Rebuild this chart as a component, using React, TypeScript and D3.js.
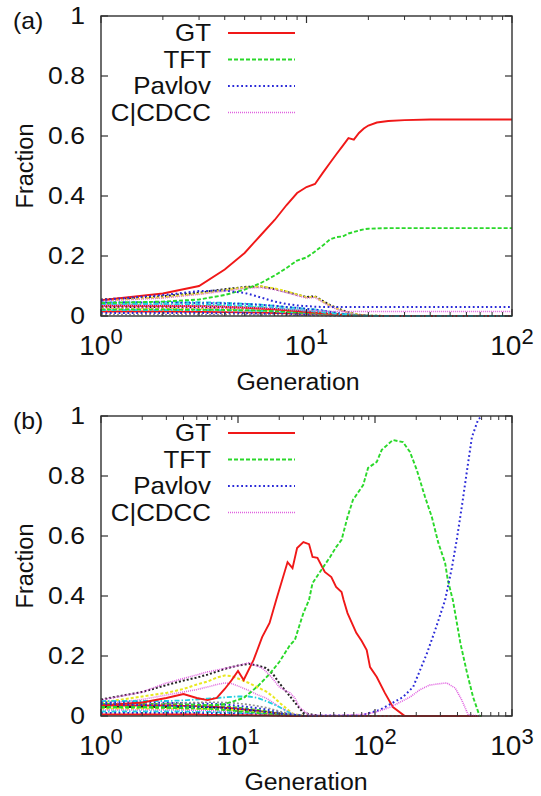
import React from 'react';
import * as d3 from 'd3';

// ---------- panel (a) ----------
const genA = [1, 2, 3, 4, 5, 6, 7, 8, 9, 10, 11, 12, 13, 14, 15, 16, 17, 18, 19, 20, 22, 25, 30, 40, 60, 100];
const gtA = [0.053, 0.075, 0.1, 0.155, 0.21, 0.27, 0.32, 0.37, 0.41, 0.43, 0.44, 0.477, 0.51, 0.54, 0.567, 0.593, 0.588, 0.61, 0.625, 0.635, 0.645, 0.65, 0.653, 0.655, 0.655, 0.655];
const tftA = [0.043, 0.048, 0.055, 0.07, 0.088, 0.11, 0.135, 0.16, 0.185, 0.195, 0.215, 0.235, 0.255, 0.263, 0.265, 0.275, 0.28, 0.285, 0.289, 0.291, 0.292, 0.293, 0.293, 0.293, 0.293, 0.293];
const pavA = [0.053, 0.07, 0.083, 0.085, 0.077, 0.062, 0.048, 0.04, 0.035, 0.033, 0.031, 0.03, 0.03, 0.03, 0.03, 0.03, 0.03, 0.03, 0.03, 0.03, 0.03, 0.03, 0.03, 0.03, 0.03, 0.03];
const ccdccA = [0.035, 0.035, 0.033, 0.031, 0.029, 0.027, 0.025, 0.022, 0.02, 0.018, 0.017, 0.016, 0.015, 0.015, 0.015, 0.015, 0.015, 0.015, 0.015, 0.015, 0.015, 0.015, 0.015, 0.015, 0.015, 0.015];

// remaining strategies, panel (a)
const genAo = [1, 2, 3, 4, 5, 6, 7, 8, 9, 10, 11, 12, 13, 14, 15, 16, 18, 20, 25, 100];
const othersA = [
  [0.055, 0.066, 0.078, 0.089, 0.097, 0.098, 0.09, 0.08, 0.071, 0.063, 0.066, 0.05, 0.037, 0.027, 0.019, 0.012, 0.004, 0.001, 0, 0],
  [0.052, 0.062, 0.074, 0.086, 0.095, 0.099, 0.092, 0.082, 0.072, 0.062, 0.064, 0.048, 0.035, 0.025, 0.017, 0.011, 0.004, 0.001, 0, 0],
  [0.05, 0.06, 0.072, 0.083, 0.092, 0.095, 0.088, 0.078, 0.068, 0.06, 0.062, 0.046, 0.033, 0.023, 0.016, 0.01, 0.003, 0, 0, 0],
  [0.045, 0.047, 0.046, 0.044, 0.041, 0.038, 0.034, 0.03, 0.027, 0.024, 0.022, 0.018, 0.014, 0.011, 0.008, 0.006, 0.003, 0.001, 0, 0],
  [0.045, 0.045, 0.043, 0.042, 0.04, 0.037, 0.034, 0.03, 0.027, 0.024, 0.021, 0.018, 0.014, 0.01, 0.007, 0.005, 0.002, 0, 0, 0],
  [0.035, 0.035, 0.034, 0.032, 0.03, 0.028, 0.025, 0.022, 0.019, 0.016, 0.014, 0.011, 0.008, 0.006, 0.004, 0.003, 0.001, 0, 0, 0],
  [0.015, 0.015, 0.014, 0.013, 0.012, 0.011, 0.01, 0.009, 0.008, 0.007, 0.006, 0.005, 0.004, 0.003, 0.002, 0.0015, 0.001, 0, 0, 0],
  [0.03, 0.03, 0.029, 0.028, 0.027, 0.025, 0.023, 0.02, 0.018, 0.015, 0.013, 0.011, 0.008, 0.006, 0.004, 0.003, 0.001, 0, 0, 0],
  [0.025, 0.025, 0.024, 0.023, 0.022, 0.02, 0.018, 0.016, 0.014, 0.012, 0.01, 0.008, 0.006, 0.004, 0.003, 0.002, 0.001, 0, 0, 0],
  [0.028, 0.028, 0.027, 0.026, 0.024, 0.022, 0.02, 0.018, 0.015, 0.013, 0.011, 0.009, 0.007, 0.005, 0.003, 0.002, 0.001, 0, 0, 0],
  [0.02, 0.02, 0.02, 0.019, 0.018, 0.017, 0.015, 0.013, 0.011, 0.01, 0.008, 0.006, 0.005, 0.003, 0.002, 0.001, 0, 0, 0, 0],
  [0.01, 0.01, 0.01, 0.009, 0.009, 0.008, 0.007, 0.006, 0.005, 0.004, 0.004, 0.003, 0.002, 0.002, 0.001, 0.001, 0, 0, 0, 0],
  [0.022, 0.022, 0.021, 0.02, 0.019, 0.018, 0.016, 0.014, 0.012, 0.01, 0.009, 0.007, 0.005, 0.004, 0.003, 0.002, 0.001, 0, 0, 0],
  [0.035, 0.034, 0.033, 0.031, 0.028, 0.025, 0.022, 0.019, 0.016, 0.013, 0.011, 0.009, 0.007, 0.005, 0.003, 0.002, 0.001, 0, 0, 0],
  [0.005, 0.005, 0.005, 0.005, 0.004, 0.004, 0.004, 0.003, 0.003, 0.002, 0.002, 0.002, 0.001, 0.001, 0.001, 0, 0, 0, 0, 0],
  [0.04, 0.04, 0.039, 0.037, 0.034, 0.031, 0.028, 0.024, 0.021, 0.018, 0.015, 0.012, 0.009, 0.007, 0.005, 0.003, 0.001, 0, 0, 0],
];

// ---------- panel (b) ----------
const gtBGen = [1, 2, 3, 4, 5, 6, 7, 8, 9, 10, 11, 13, 15, 17, 19, 23, 25, 27, 30, 33, 35, 38, 43, 48, 52, 57, 59, 63, 73, 80, 87, 92, 103, 118, 135, 165, 600];
const gtB = [0.035, 0.045, 0.06, 0.073, 0.06, 0.053, 0.06, 0.09, 0.12, 0.15, 0.12, 0.187, 0.263, 0.31, 0.387, 0.513, 0.493, 0.56, 0.58, 0.573, 0.53, 0.527, 0.48, 0.463, 0.43, 0.413, 0.387, 0.343, 0.277, 0.25, 0.22, 0.163, 0.13, 0.077, 0.03, 0, 0];
const tftBGen = [1, 2, 4, 6, 8, 11, 14, 17, 20, 24, 26, 28, 30, 33, 35, 42, 47, 52, 57, 63, 69, 82, 89, 103, 112, 135, 160, 180, 202, 232, 260, 290, 325, 340, 365, 370, 420, 470, 520, 580, 600];
const tftB = [0.03, 0.03, 0.03, 0.035, 0.04, 0.06, 0.1, 0.14, 0.18, 0.237, 0.253, 0.3, 0.343, 0.387, 0.443, 0.497, 0.53, 0.563, 0.587, 0.663, 0.72, 0.77, 0.827, 0.847, 0.887, 0.92, 0.913, 0.88, 0.82, 0.73, 0.663, 0.577, 0.51, 0.453, 0.397, 0.387, 0.243, 0.143, 0.063, 0, 0];
const pavBGen = [1, 3, 6, 10, 15, 20, 30, 80, 108, 130, 160, 190, 240, 280, 325, 365, 395, 430, 470, 510, 565, 600];
const pavB = [0.04, 0.035, 0.03, 0.025, 0.015, 0.008, 0.001, 0.002, 0.02, 0.04, 0.063, 0.097, 0.21, 0.297, 0.387, 0.497, 0.587, 0.697, 0.82, 0.93, 0.987, 1.0];
const ccdccBGen = [1, 2, 3, 4, 6, 9, 12, 15, 17, 20, 22, 24, 26, 28, 33, 50, 80, 100, 130, 180, 212, 250, 300, 335, 385, 430, 480, 600];
const ccdccB = [0.053, 0.08, 0.11, 0.125, 0.147, 0.163, 0.177, 0.16, 0.137, 0.097, 0.085, 0.077, 0.06, 0.03, 0.003, 0.002, 0.005, 0.012, 0.03, 0.063, 0.087, 0.103, 0.108, 0.11, 0.093, 0.053, 0.003, 0];

// remaining strategies, panel (b)
const genBo = [1, 2, 3, 4, 5, 6, 7, 8, 9, 10, 12, 14, 16, 18, 20, 25, 30, 40, 600];
const othersB = [
  [0.055, 0.08, 0.103, 0.118, 0.128, 0.138, 0.148, 0.157, 0.163, 0.168, 0.174, 0.168, 0.16, 0.14, 0.11, 0.055, 0.01, 0, 0],
  [0.045, 0.065, 0.077, 0.09, 0.105, 0.115, 0.128, 0.135, 0.133, 0.125, 0.11, 0.095, 0.082, 0.065, 0.045, 0.008, 0, 0, 0],
  [0.04, 0.055, 0.07, 0.08, 0.088, 0.097, 0.105, 0.11, 0.108, 0.1, 0.085, 0.07, 0.06, 0.045, 0.03, 0.008, 0, 0, 0],
  [0.05, 0.05, 0.05, 0.052, 0.055, 0.058, 0.06, 0.062, 0.064, 0.065, 0.065, 0.06, 0.05, 0.04, 0.03, 0.005, 0, 0, 0],
  [0.045, 0.045, 0.044, 0.043, 0.042, 0.041, 0.04, 0.038, 0.036, 0.034, 0.03, 0.026, 0.022, 0.017, 0.012, 0.004, 0, 0, 0],
  [0.04, 0.04, 0.04, 0.039, 0.038, 0.036, 0.034, 0.032, 0.03, 0.028, 0.024, 0.02, 0.016, 0.012, 0.009, 0.002, 0, 0, 0],
  [0.035, 0.035, 0.035, 0.034, 0.033, 0.032, 0.03, 0.028, 0.026, 0.024, 0.02, 0.017, 0.013, 0.01, 0.007, 0.002, 0, 0, 0],
  [0.03, 0.03, 0.03, 0.03, 0.029, 0.028, 0.027, 0.025, 0.023, 0.021, 0.018, 0.015, 0.012, 0.009, 0.006, 0.002, 0, 0, 0],
  [0.025, 0.025, 0.025, 0.024, 0.024, 0.023, 0.022, 0.021, 0.02, 0.018, 0.015, 0.012, 0.01, 0.008, 0.005, 0.001, 0, 0, 0],
  [0.02, 0.02, 0.02, 0.02, 0.019, 0.018, 0.017, 0.016, 0.015, 0.014, 0.012, 0.01, 0.008, 0.006, 0.004, 0.001, 0, 0, 0],
  [0.015, 0.015, 0.015, 0.015, 0.014, 0.014, 0.013, 0.012, 0.011, 0.01, 0.009, 0.007, 0.006, 0.004, 0.003, 0.001, 0, 0, 0],
  [0.01, 0.01, 0.01, 0.01, 0.01, 0.009, 0.009, 0.008, 0.008, 0.007, 0.006, 0.005, 0.004, 0.003, 0.002, 0, 0, 0, 0],
  [0.028, 0.028, 0.027, 0.026, 0.025, 0.024, 0.022, 0.02, 0.018, 0.016, 0.013, 0.01, 0.008, 0.006, 0.004, 0.001, 0, 0, 0],
  [0.005, 0.005, 0.005, 0.005, 0.005, 0.004, 0.004, 0.004, 0.003, 0.003, 0.003, 0.002, 0.002, 0.001, 0.001, 0, 0, 0, 0],
  [0.038, 0.04, 0.042, 0.044, 0.045, 0.046, 0.046, 0.045, 0.044, 0.042, 0.038, 0.033, 0.028, 0.022, 0.016, 0.005, 0, 0, 0],
];

const legendLabels = ['GT', 'TFT', 'Pavlov', 'C|CDCC'];
const yTicks = [0, 0.2, 0.4, 0.6, 0.8, 1];

// gnuplot-like line styles
type Style = { color: string; dash: string; width: number };
const mainStyles: Style[] = [
  { color: '#f01818', dash: '', width: 1.9 },
  { color: '#2ad82a', dash: '4,2', width: 1.9 },
  { color: '#2a2ad8', dash: '1.8,2.6', width: 2 },
  { color: '#e060e0', dash: '1,1', width: 1.6 },
];
const otherStyles: Style[] = [
  { color: '#222222', dash: '2,2', width: 2 },
  { color: '#e8e820', dash: '3,2', width: 2 },
  { color: '#e070e0', dash: '1,1', width: 1.6 },
  { color: '#20d0e0', dash: '5,2,1.5,2', width: 1.8 },
  { color: '#2a2ad8', dash: '1.8,2.6', width: 2 },
  { color: '#2ad82a', dash: '4,2', width: 1.8 },
  { color: '#f01818', dash: '', width: 1.8 },
  { color: '#222222', dash: '2,2', width: 2 },
  { color: '#e8e820', dash: '3,2', width: 2 },
  { color: '#e060e0', dash: '1,1', width: 1.6 },
  { color: '#20d0e0', dash: '5,2,1.5,2', width: 1.8 },
  { color: '#2a2ad8', dash: '1.8,2.6', width: 2 },
  { color: '#2ad82a', dash: '4,2', width: 1.8 },
  { color: '#f01818', dash: '', width: 1.8 },
  { color: '#909090', dash: '2,2', width: 1.6 },
  { color: '#20d0e0', dash: '5,2,1.5,2', width: 1.8 },
];

const FONT = '"Liberation Sans", Arial, Helvetica, sans-serif';

type Series = { gens: number[]; vals: number[] };

type PanelProps = {
  top: number;
  tag: string;
  xMax: number;
  main: Series[];
  otherGens: number[];
  others: number[][];
  xLabelCenter: number;
};

// horizontal stretch around an anchor x, the source fonts render a bit wide
const stretch = (ax: number, k: number) => `translate(${ax},0) scale(${k},1) translate(${-ax},0)`;

const Panel: React.FC<PanelProps> = ({ top, tag, xMax, main, otherGens, others, xLabelCenter }) => {
  const left = 101;
  const right = 512;
  const bottom = top + 300;

  const x = d3.scaleLog().domain([1, xMax]).range([left, right]);
  const y = d3.scaleLinear().domain([0, 1]).range([bottom, top]);

  const line = (gens: number[], vals: number[]) =>
    d3.line<number>()
      .x((_, i) => x(gens[i]))
      .y(d => y(d))(vals) || '';

  const decades = d3.range(0, Math.round(Math.log10(xMax)) + 1).map(p => Math.pow(10, p));
  const minors: number[] = [];
  decades.slice(0, -1).forEach(d => {
    for (let k = 2; k <= 9; k++) minors.push(d * k);
  });

  const frame = '#303030';

  return (
    <g>
      {/* curves of the remaining strategies */}
      {others.map((vals, i) => {
        const s = otherStyles[i % otherStyles.length];
        return (
          <path key={'o' + i} d={line(otherGens, vals)} fill="none" stroke={s.color}
            strokeWidth={s.width} strokeDasharray={s.dash || undefined} />
        );
      })}
      {/* legend strategies */}
      {main.map((sr, i) => {
        const s = mainStyles[i];
        return (
          <path key={'m' + i} d={line(sr.gens, sr.vals)} fill="none" stroke={s.color}
            strokeWidth={s.width} strokeDasharray={s.dash || undefined} />
        );
      })}

      {/* frame */}
      <rect x={left} y={top} width={right - left} height={bottom - top} fill="none" stroke={frame} strokeWidth={1.4} />

      {/* y ticks */}
      {yTicks.map(t => (
        <g key={'y' + t}>
          <line x1={left} x2={left + 7} y1={y(t)} y2={y(t)} stroke={frame} strokeWidth={1.2} />
          <line x1={right} x2={right - 7} y1={y(t)} y2={y(t)} stroke={frame} strokeWidth={1.2} />
          <text x={85} y={y(t) + 8.5} textAnchor="end" fontSize={23.5} fontFamily={FONT} fill="#111"
            transform={stretch(85, 1.13)}>
            {t === 0 || t === 1 ? String(t) : t.toFixed(1)}
          </text>
        </g>
      ))}

      {/* x ticks */}
      {decades.map(d => (
        <g key={'xd' + d}>
          <line x1={x(d)} x2={x(d)} y1={bottom} y2={bottom - 7} stroke={frame} strokeWidth={1.2} />
          <line x1={x(d)} x2={x(d)} y1={top} y2={top + 7} stroke={frame} strokeWidth={1.2} />
          <text x={x(d)} y={bottom + 39} textAnchor="middle" fontSize={28} fontFamily={FONT} fill="#111">
            10<tspan fontSize={22} dy={-11}>{Math.round(Math.log10(d))}</tspan>
          </text>
        </g>
      ))}
      {minors.map(m => (
        <g key={'xm' + m}>
          <line x1={x(m)} x2={x(m)} y1={bottom} y2={bottom - 4} stroke={frame} strokeWidth={1} />
          <line x1={x(m)} x2={x(m)} y1={top} y2={top + 4} stroke={frame} strokeWidth={1} />
        </g>
      ))}

      {/* legend */}
      {legendLabels.map((lab, i) => {
        const ly = top + 17 + i * 26.5;
        const s = mainStyles[i];
        return (
          <g key={'l' + i}>
            <text x={211} y={ly + 8.5} textAnchor="end" fontSize={24} fontFamily={FONT} fill="#111"
              transform={stretch(211, 1.08)}>{lab}</text>
            <line x1={228} x2={295} y1={ly} y2={ly} stroke={s.color} strokeWidth={s.width}
              strokeDasharray={s.dash || undefined} />
          </g>
        );
      })}

      {/* labels */}
      <text x={13} y={top + 13} fontSize={23} fontFamily={FONT} fill="#111" transform={stretch(13, 1.08)}>{tag}</text>
      <text x={xLabelCenter} y={bottom + 74} textAnchor="middle" fontSize={23.5} fontFamily={FONT} fill="#111"
        transform={stretch(xLabelCenter, 1.06)}>Generation</text>
      <text transform={`translate(33,${(top + bottom) / 2}) rotate(-90)`} textAnchor="middle" fontSize={23.5}
        fontFamily={FONT} fill="#111">Fraction</text>
    </g>
  );
};

export default function App() {
  return (
    <svg width={541} height={796} style={{ position: 'absolute', left: 0, top: 0, background: '#fff' }}>
      <rect width={541} height={796} fill="#fff" />
      <Panel
        top={16}
        tag="(a)"
        xMax={100}
        xLabelCenter={298}
        main={[
          { gens: genA, vals: gtA },
          { gens: genA, vals: tftA },
          { gens: genA, vals: pavA },
          { gens: genA, vals: ccdccA },
        ]}
        otherGens={genAo}
        others={othersA}
      />
      <Panel
        top={416}
        tag="(b)"
        xMax={1000}
        xLabelCenter={306}
        main={[
          { gens: gtBGen, vals: gtB },
          { gens: tftBGen, vals: tftB },
          { gens: pavBGen, vals: pavB },
          { gens: ccdccBGen, vals: ccdccB },
        ]}
        otherGens={genBo}
        others={othersB}
      />
    </svg>
  );
}
